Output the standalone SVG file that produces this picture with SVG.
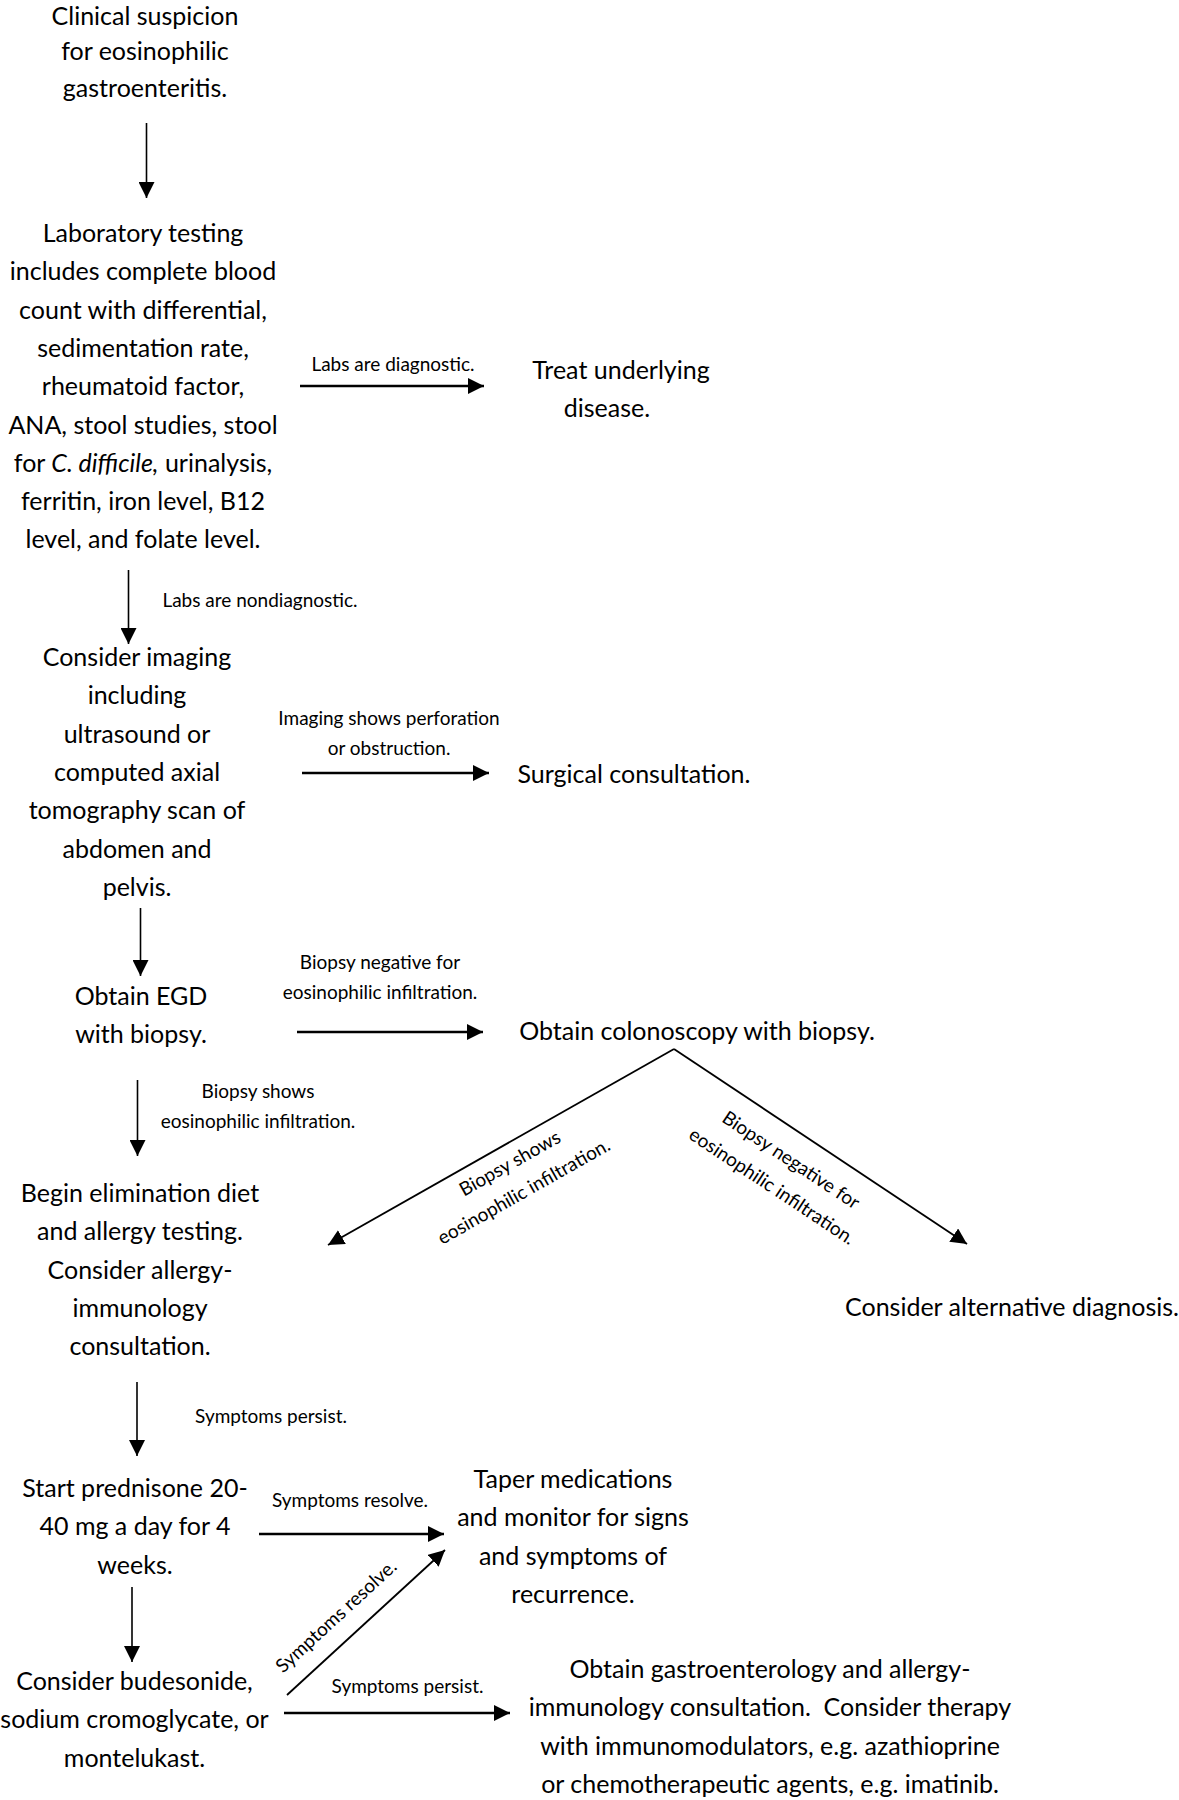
<svg xmlns="http://www.w3.org/2000/svg" width="1179" height="1800" viewBox="0 0 1179 1800">
<style>
.n{font-family:Lato,"Liberation Sans",sans-serif;font-size:25px;fill:#000;text-anchor:middle}
.l{font-family:Lato,"Liberation Sans",sans-serif;font-size:19px;fill:#000;text-anchor:middle}
.c path{fill:none;stroke:#000}
.v{stroke-width:1.6}
.h{stroke-width:2.6}
.d{stroke-width:1.8}
</style>
<defs>
<marker id="ah" markerUnits="userSpaceOnUse" markerWidth="16" markerHeight="16" refX="16" refY="8" orient="auto">
<path d="M0,0 L16,8 L0,16 z" fill="#000"/>
</marker>
</defs>
<rect width="1179" height="1800" fill="#fff"/>
<g id="connectors" class="c">
<path class="v" d="M146.5,123 V198" marker-end="url(#ah)"/>
<path class="h" d="M300,386 H484" marker-end="url(#ah)"/>
<path class="v" d="M128.5,570 V644" marker-end="url(#ah)"/>
<path class="h" d="M302,773 H489" marker-end="url(#ah)"/>
<path class="v" d="M140.5,908 V976" marker-end="url(#ah)"/>
<path class="h" d="M297,1032 H483" marker-end="url(#ah)"/>
<path class="d" d="M674,1049 L328,1245" marker-end="url(#ah)"/>
<path class="d" d="M674,1049 L967,1244" marker-end="url(#ah)"/>
<path class="v" d="M137.5,1080 V1156" marker-end="url(#ah)"/>
<path class="v" d="M137,1382 V1456" marker-end="url(#ah)"/>
<path class="h" d="M259,1534 H444" marker-end="url(#ah)"/>
<path class="v" d="M132,1587 V1662" marker-end="url(#ah)"/>
<path class="d" d="M287,1695 L445,1550" marker-end="url(#ah)"/>
<path class="h" d="M284,1713 H510" marker-end="url(#ah)"/>
</g>
<g id="labels">
<text class="l" x="393" y="371">Labs are diagnostic.</text>
<text class="l" x="260" y="607">Labs are nondiagnostic.</text>
<text class="l" x="389" y="725">Imaging shows perforation</text>
<text class="l" x="389" y="755">or obstruction.</text>
<text class="l" x="380" y="969">Biopsy negative for</text>
<text class="l" x="380" y="999">eosinophilic infiltration.</text>
<text class="l" x="258" y="1098">Biopsy shows</text>
<text class="l" x="258" y="1128">eosinophilic infiltration.</text>
<text class="l" transform="translate(513,1169) rotate(-29.5)">Biopsy shows</text>
<text class="l" transform="translate(527,1197) rotate(-29.5)">eosinophilic infiltration.</text>
<text class="l" transform="translate(787.5,1165.4) rotate(33.6)">Biopsy negative for</text>
<text class="l" transform="translate(768.5,1191.7) rotate(33.6)">eosinophilic infiltration.</text>
<text class="l" x="271" y="1423">Symptoms persist.</text>
<text class="l" x="350" y="1507">Symptoms resolve.</text>
<text class="l" transform="translate(340.5,1621) rotate(-42.5)">Symptoms resolve.</text>
<text class="l" x="407.5" y="1693">Symptoms persist.</text>
</g>
<g id="n1">
<text class="n" x="145" y="25">Clinical suspicion</text>
<text class="n" x="145" y="60">for eosinophilic</text>
<text class="n" x="145" y="97">gastroenteritis.</text>
</g>
<g id="n2">
<text class="n" x="143" y="242">Laboratory testing</text>
<text class="n" x="143" y="280.3">includes complete blood</text>
<text class="n" x="143" y="318.6">count with differential,</text>
<text class="n" x="143" y="356.9">sedimentation rate,</text>
<text class="n" x="143" y="395.2">rheumatoid factor,</text>
<text class="n" x="143" y="433.5">ANA, stool studies, stool</text>
<text class="n" x="143" y="471.8">for <tspan font-style="italic">C. difficile,</tspan> urinalysis,</text>
<text class="n" x="143" y="510.1">ferritin, iron level, B12</text>
<text class="n" x="143" y="548.4">level, and folate level.</text>
</g>
<g id="n3">
<text class="n" x="621" y="379">Treat underlying</text>
<text class="n" x="607" y="417">disease.</text>
</g>
<g id="n4">
<text class="n" x="137" y="666">Consider imaging</text>
<text class="n" x="137" y="704.3">including</text>
<text class="n" x="137" y="742.6">ultrasound or</text>
<text class="n" x="137" y="780.9">computed axial</text>
<text class="n" x="137" y="819.2">tomography scan of</text>
<text class="n" x="137" y="857.5">abdomen and</text>
<text class="n" x="137" y="895.8">pelvis.</text>
</g>
<g id="n5">
<text class="n" x="634" y="783">Surgical consultation.</text>
</g>
<g id="n6">
<text class="n" x="141" y="1005">Obtain EGD</text>
<text class="n" x="141" y="1043">with biopsy.</text>
</g>
<g id="n7">
<text class="n" x="697" y="1040">Obtain colonoscopy with biopsy.</text>
</g>
<g id="n8">
<text class="n" x="140" y="1202">Begin elimination diet</text>
<text class="n" x="140" y="1240.3">and allergy testing.</text>
<text class="n" x="140" y="1278.6">Consider allergy-</text>
<text class="n" x="140" y="1316.9">immunology</text>
<text class="n" x="140" y="1355.2">consultation.</text>
</g>
<g id="n9">
<text class="n" x="1012" y="1316">Consider alternative diagnosis.</text>
</g>
<g id="n10">
<text class="n" x="135" y="1497">Start prednisone 20-</text>
<text class="n" x="135" y="1535.3">40 mg a day for 4</text>
<text class="n" x="135" y="1573.6">weeks.</text>
</g>
<g id="n11">
<text class="n" x="573" y="1488">Taper medications</text>
<text class="n" x="573" y="1526.3">and monitor for signs</text>
<text class="n" x="573" y="1564.6">and symptoms of</text>
<text class="n" x="573" y="1602.9">recurrence.</text>
</g>
<g id="n12">
<text class="n" x="134.5" y="1690">Consider budesonide,</text>
<text class="n" x="134.5" y="1728.3">sodium cromoglycate, or</text>
<text class="n" x="134.5" y="1766.6">montelukast.</text>
</g>
<g id="n13">
<text class="n" x="770" y="1678">Obtain gastroenterology and allergy-</text>
<text class="n" x="770" y="1716.3" style="white-space:pre">immunology consultation.  Consider therapy</text>
<text class="n" x="770" y="1754.6">with immunomodulators, e.g. azathioprine</text>
<text class="n" x="770" y="1792.9">or chemotherapeutic agents, e.g. imatinib.</text>
</g>
</svg>
